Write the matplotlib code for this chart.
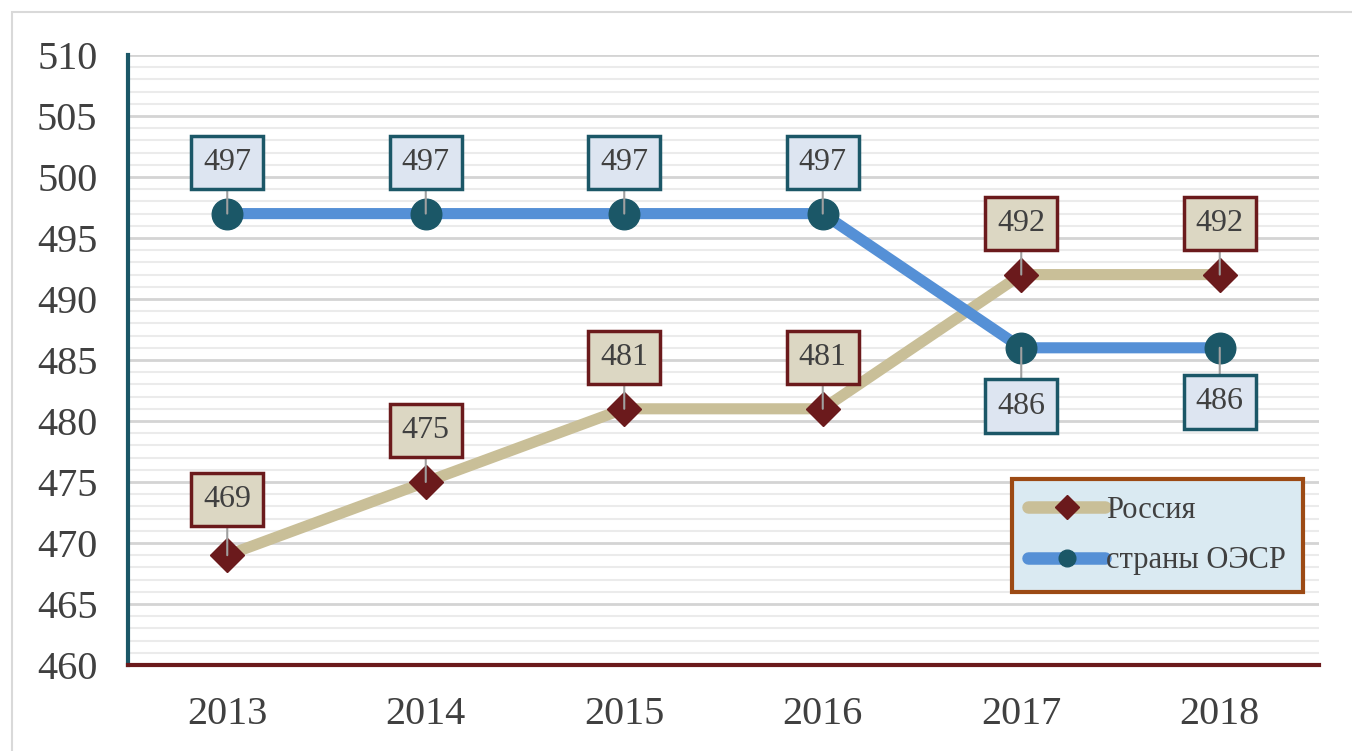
import matplotlib.pyplot as plt
import matplotlib.patches as mpatches
from matplotlib.ticker import MultipleLocator

years = ["2013", "2014", "2015", "2016", "2017", "2018"]
russia = [469, 475, 481, 481, 492, 492]
oecd = [497, 497, 497, 497, 486, 486]
# label offsets in points (above > 0, below < 0)
russia_off = [40, 37, 37, 37, 37, 37]
oecd_off = [37, 37, 37, 37, -42, -39]

TXT = "#404040"
TEAL = "#1b5767"
DRED = "#6b1a1c"

plt.rcParams['font.family'] = ['Liberation Serif', 'DejaVu Serif']

fig = plt.figure(figsize=(13.52, 7.51), dpi=100)
fig.patches.append(mpatches.Rectangle((12 / 1352, -0.1), 1.2, (751 - 12) / 751 + 0.1,
                                      transform=fig.transFigure, fill=False,
                                      edgecolor="#d9d9d9", linewidth=1.5))
ax = fig.add_axes([128 / 1352, 1 - 665 / 751, (1319 - 128) / 1352, (665 - 55) / 751])

x = list(range(len(years)))
ax.plot(x, russia, color="#c9bf98", linewidth=8, marker="D", markersize=17,
        markerfacecolor=DRED, markeredgecolor=DRED, label="Россия", zorder=3,
        solid_capstyle="round")
ax.plot(x, oecd, color="#5590d6", linewidth=8, marker="o", markersize=22,
        markerfacecolor=TEAL, markeredgecolor=TEAL, label="страны ОЭСР", zorder=3,
        solid_capstyle="round")

for xi, v, off in zip(x, russia, russia_off):
    ax.annotate(str(v), (xi, v), xytext=(0, off), textcoords="offset points",
                ha="center", va="center", fontsize=23, color=TXT, zorder=5,
                bbox=dict(boxstyle="square,pad=0.38", fc="#dcd7c3", ec=DRED, lw=2.5),
                arrowprops=dict(arrowstyle="-", color="#a0a0a0", lw=1.5, shrinkA=0, shrinkB=0))
for xi, v, off in zip(x, oecd, oecd_off):
    ax.annotate(str(v), (xi, v), xytext=(0, off), textcoords="offset points",
                ha="center", va="center", fontsize=23, color=TXT, zorder=5,
                bbox=dict(boxstyle="square,pad=0.38", fc="#dde5f1", ec=TEAL, lw=2.5),
                arrowprops=dict(arrowstyle="-", color="#a0a0a0", lw=1.5, shrinkA=0, shrinkB=0))

ax.set_xlim(-0.5, 5.5)
ax.set_ylim(460, 510)
ax.set_xticks(x)
ax.set_xticklabels(years)
ax.yaxis.set_major_locator(MultipleLocator(5))
ax.yaxis.set_minor_locator(MultipleLocator(1))
ax.tick_params(axis="both", length=0, labelsize=29, colors=TXT)
ax.tick_params(axis="y", which="minor", length=0)
ax.tick_params(axis="x", pad=22)
ax.tick_params(axis="y", pad=22)
ax.grid(which="major", axis="y", color="#d4d4d4", linewidth=2)
ax.grid(which="minor", axis="y", color="#ebebeb", linewidth=1.5)
ax.set_axisbelow(True)

for s in ["top", "right"]:
    ax.spines[s].set_visible(False)
ax.spines["left"].set_color(TEAL)
ax.spines["left"].set_linewidth(3)
ax.spines["bottom"].set_color(DRED)
ax.spines["bottom"].set_linewidth(3)

leg = ax.legend(loc="lower right", fontsize=22, borderaxespad=0,
                frameon=True, fancybox=False, handlelength=2.5, handletextpad=0.05,
                labelspacing=0.7, borderpad=0.55, labelcolor=TXT)
leg.set_bbox_to_anchor((1303 / 1352, 1 - 592 / 751), transform=fig.transFigure)
leg.get_frame().set_facecolor("#daeaf2")
leg.get_frame().set_edgecolor("#9c4a14")
leg.get_frame().set_linewidth(3)
leg.get_frame().set_alpha(1)
for h in leg.legend_handles:
    h.set_markersize(12)
    h.set_linewidth(9)

fig.savefig("out.png", dpi=100)
